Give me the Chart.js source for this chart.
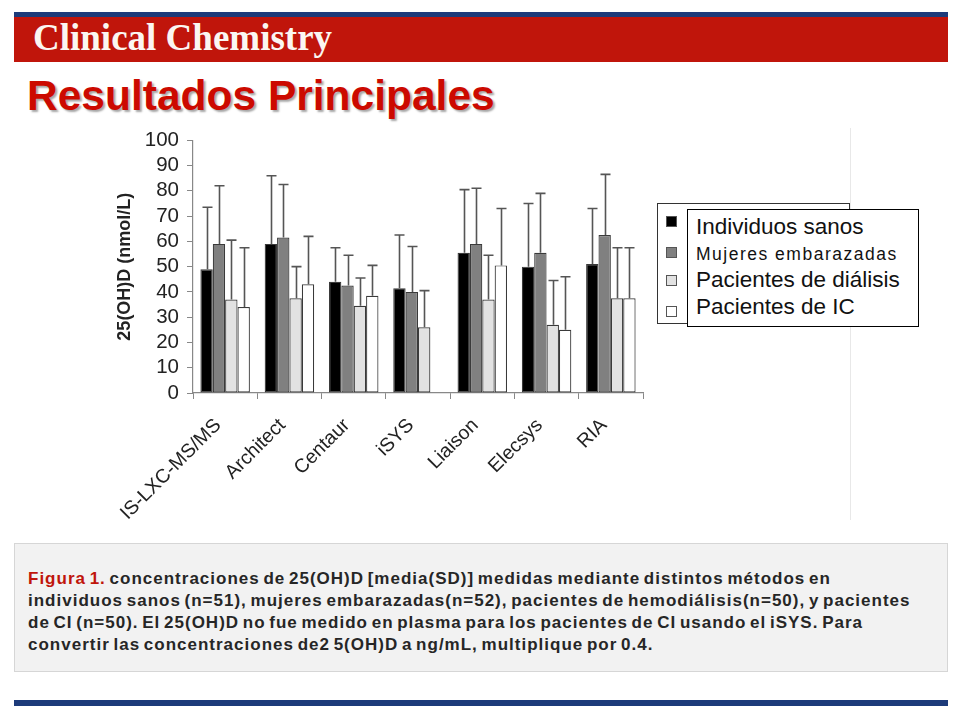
<!DOCTYPE html>
<html lang="es">
<head>
<meta charset="utf-8">
<title>Resultados Principales</title>
<script src="https://cdn.jsdelivr.net/npm/chart.js@4/dist/chart.umd.min.js"></script>
<style>
  html, body { margin: 0; padding: 0; background: #ffffff; }
  body { width: 960px; height: 720px; position: relative; overflow: hidden; font-family: "Liberation Sans", Arial, sans-serif; }
  .abs { position: absolute; }
  #topLine { left: 14px; top: 12px; width: 934px; height: 5px; background: #1d3b7a; }
  #band { left: 14px; top: 17px; width: 934px; height: 45px; background: #c0150b; }
  #brand { left: 33px; top: 15px; height: 45px; line-height: 45px; font-family: "Liberation Serif", "DejaVu Serif", serif; font-size: 37px; font-weight: bold; color: #fbf6f2; white-space: nowrap; }
  #title { left: 27px; top: 72px; font-size: 42.5px; font-weight: bold; color: #cc0a00; text-shadow: 2px 2px 2px rgba(0,0,0,0.35); white-space: nowrap; }
  #chartWrap { left: 100px; top: 120px; width: 560px; height: 420px; }
  #sep { left: 850px; top: 128px; width: 1px; height: 392px; background: #e8e8e8; }
  #legBack { left: 657px; top: 203px; width: 191px; height: 119px; border: 1.5px solid #333333; background: #ffffff; }
  .sq { position: absolute; left: 8px; width: 9px; height: 9px; border: 1px solid #555555; }
  #legFront { left: 687px; top: 209px; width: 230px; height: 116px; border: 1px solid #000000; background: #ffffff; }
  .leg { position: absolute; left: 8px; color: #111111; white-space: nowrap; line-height: 26px; }
  #caption { left: 14px; top: 543px; width: 932px; height: 127px; background: #f2f2f2; border: 1px solid #d6d6d6; }
  #capText { position: absolute; left: 13px; top: 24px; font-size: 17px; font-weight: bold; line-height: 22px; letter-spacing: 1px; word-spacing: -2px; color: #262626; white-space: nowrap; }
  #capText .red { color: #c0150b; }
  #bottomLine { left: 14px; top: 700px; width: 934px; height: 6px; background: #1d3b7a; }
</style>
</head>
<body>
<div class="abs" id="topLine"></div>
<div class="abs" id="band"></div>
<div class="abs" id="brand">Clinical Chemistry</div>
<div class="abs" id="title">Resultados Principales</div>

<div class="abs" id="sep"></div>
<div class="abs" id="chartWrap"><canvas id="vitaminChart" width="560" height="420"></canvas></div>

<div class="abs" id="legBack">
  <div class="sq" style="top:12px;background:#000000;"></div>
  <div class="sq" style="top:43px;background:#808080;"></div>
  <div class="sq" style="top:71px;background:#e2e2e2;"></div>
  <div class="sq" style="top:102px;background:#ffffff;"></div>
</div>
<div class="abs" id="legFront">
  <div class="leg" style="top:4px;font-size:22.5px;">Individuos sanos</div>
  <div class="leg" style="top:31px;font-size:17.5px;letter-spacing:1.5px;">Mujeres embarazadas</div>
  <div class="leg" style="top:57px;font-size:22.5px;">Pacientes de diálisis</div>
  <div class="leg" style="top:84px;font-size:22.5px;">Pacientes de IC</div>
</div>

<div class="abs" id="caption">
  <div id="capText"><span class="red">Figura 1.</span> concentraciones de 25(OH)D [media(SD)] medidas mediante distintos métodos en<br>individuos sanos (n=51), mujeres embarazadas(n=52), pacientes de hemodiálisis(n=50), y pacientes<br>de CI (n=50). El 25(OH)D no fue medido en plasma para los pacientes de CI usando el iSYS. Para<br>convertir las concentraciones de2 5(OH)D a ng/mL, multiplique por 0.4.</div>
</div>
<div class="abs" id="bottomLine"></div>

<script>
// methods (categories)
const methods = ["IS-LXC-MS/MS", "Architect", "Centaur", "iSYS", "Liaison", "Elecsys", "RIA"];

// group names
const groupNames = ["Individuos sanos", "Mujeres embarazadas", "Pacientes de diálisis", "Pacientes de IC"];

// means, nmol/L
const meanSanos       = [49, 59, 44, 41.5, 55.5, 50, 51];
const meanEmbarazadas = [59, 61.5, 42.5, 40, 59, 55.5, 62.5];
const meanDialisis    = [37, 37.5, 34.5, 26, 37, 27, 37.5];
const meanIC          = [34, 43, 38.5, null, 50.5, 25, 37.5];

// SD (upper whisker only)
const sdSanos       = [24.5, 27, 13.5, 21, 25, 25, 22];
const sdEmbarazadas = [23, 21, 12, 18, 22, 23.5, 24];
const sdDialisis    = [23.5, 12.5, 11, 14.5, 17.5, 17.5, 20];
const sdIC          = [23.5, 19, 12, null, 22.5, 21, 20];

const yTicks = [0, 10, 20, 30, 40, 50, 60, 70, 80, 90, 100];

const barFills = ["#000000", "#808080", "#e2e2e2", "#ffffff"];

document.addEventListener("DOMContentLoaded", () => {
  initVitaminChart();
});

// draws the SD whiskers from the top of each bar
const errorBars = {
  id: "errorBars",
  afterDatasetsDraw(chart) {
    const { ctx, scales } = chart;
    ctx.save();
    ctx.strokeStyle = "#555555";
    ctx.lineWidth = 1.6;
    chart.data.datasets.forEach((ds, i) => {
      const meta = chart.getDatasetMeta(i);
      meta.data.forEach((bar, j) => {
        const m = ds.data[j];
        const sd = ds.sd[j];
        if (m == null || sd == null) return;
        const x = Math.round(bar.x) + 0.5;
        const yTop = scales.y.getPixelForValue(m + sd);
        const yBase = scales.y.getPixelForValue(m);
        ctx.beginPath();
        ctx.moveTo(x, yBase);
        ctx.lineTo(x, yTop);
        ctx.moveTo(x - 5, yTop);
        ctx.lineTo(x + 5, yTop);
        ctx.stroke();
      });
    });
    ctx.restore();
  },
};

function initVitaminChart() {
  const ctx = document.getElementById("vitaminChart");
  if (!ctx) return;

  const means = [meanSanos, meanEmbarazadas, meanDialisis, meanIC];
  const sds   = [sdSanos, sdEmbarazadas, sdDialisis, sdIC];

  new Chart(ctx, {
    type: "bar",
    data: {
      labels: methods,
      datasets: groupNames.map((name, i) => ({
        label: name,
        data: means[i],
        sd: sds[i],
        backgroundColor: barFills[i],
        borderColor: "#3a3a3a",
        borderWidth: 1.2,
        borderSkipped: false,
        barPercentage: 1.0,
        categoryPercentage: 0.77,
      })),
    },
    plugins: [errorBars],
    options: {
      responsive: false,
      animation: false,
      layout: { padding: { top: 16, right: 17, left: 0, bottom: 0 } },
      plugins: {
        legend: { display: false },
        tooltip: { enabled: false },
      },
      scales: {
        x: {
          afterFit: (scale) => { scale.height = 147; },
          grid: { drawOnChartArea: false, drawTicks: true, tickLength: 6, color: "#888888", offset: true },
          border: { display: true, color: "#888888", width: 1.2 },
          ticks: {
            font: { family: "'Liberation Sans', Arial, sans-serif", size: 19.5 },
            color: "#222222",
            minRotation: 45,
            maxRotation: 45,
            padding: 15,
            labelOffset: -7,
            autoSkip: false,
          },
        },
        y: {
          min: 0,
          max: 100,
          afterFit: (scale) => { scale.width = 93; },
          afterBuildTicks: (scale) => { scale.ticks = yTicks.map((v) => ({ value: v })); },
          grid: { drawOnChartArea: false, drawTicks: true, tickLength: 6, color: "#888888" },
          border: { display: true, color: "#888888", width: 1.2 },
          ticks: {
            font: { family: "'Liberation Sans', Arial, sans-serif", size: 20.5 },
            color: "#222222",
            padding: 8,
            autoSkip: false,
            stepSize: 10,
          },
          title: {
            display: true,
            text: "25(OH)D (nmol/L)",
            font: { family: "'Liberation Sans', Arial, sans-serif", size: 18, weight: "bold" },
            color: "#222222",
            padding: { top: 14, bottom: 0 },
          },
        },
      },
    },
  });
}
</script>
</body>
</html>
